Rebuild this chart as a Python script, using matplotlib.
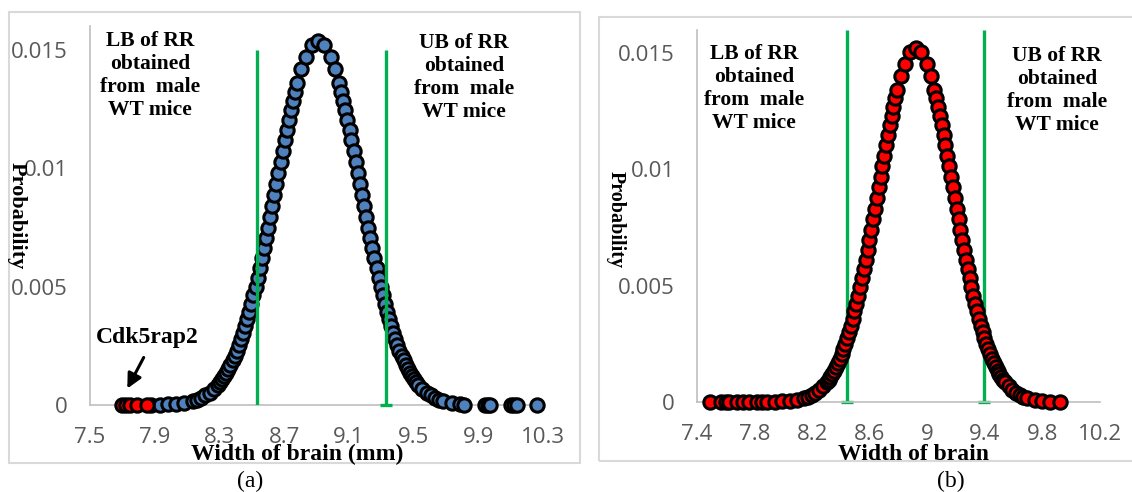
import matplotlib
matplotlib.use("Agg")
import matplotlib.pyplot as plt
from matplotlib.patches import Rectangle, FancyArrowPatch

# ---------------- data ----------------
# Panel (a): width of brain (mm) vs probability
A_LEFT_X = [7.878, 7.930, 7.981, 8.033, 8.084, 8.136, 8.162, 8.188, 8.213, 8.239, 8.265, 8.291,
            8.304, 8.317, 8.330, 8.342, 8.355, 8.368, 8.381, 8.394, 8.407, 8.420, 8.433, 8.446,
            8.458, 8.471, 8.484, 8.497, 8.510, 8.523, 8.536, 8.549, 8.562, 8.575, 8.588, 8.600,
            8.613, 8.626, 8.639, 8.652, 8.665, 8.678, 8.691, 8.704, 8.717, 8.729, 8.742, 8.755,
            8.768, 8.781, 8.807, 8.833, 8.871, 8.910]
A_LEFT_Y = [0.000005, 0.000011, 0.000024, 0.000048, 0.000092, 0.000171, 0.000230, 0.000306,
            0.000402, 0.000524, 0.000677, 0.000864, 0.000974, 0.001094, 0.001225, 0.001369,
            0.001527, 0.001698, 0.001884, 0.002084, 0.002300, 0.002533, 0.002782, 0.003048,
            0.003331, 0.003631, 0.003948, 0.004282, 0.004633, 0.005000, 0.005382, 0.005780,
            0.006191, 0.006615, 0.007051, 0.007496, 0.007949, 0.008409, 0.008874, 0.009341,
            0.009807, 0.010271, 0.010731, 0.011183, 0.011625, 0.012054, 0.012467, 0.012863,
            0.013238, 0.013591, 0.014216, 0.014722, 0.015228, 0.015400]
A_RIGHT_X = [8.949, 8.987, 9.013, 9.039, 9.052, 9.065, 9.078, 9.091, 9.104, 9.116, 9.129, 9.142,
             9.155, 9.168, 9.181, 9.194, 9.207, 9.220, 9.233, 9.245, 9.258, 9.271, 9.284, 9.297,
             9.310, 9.323, 9.336, 9.349, 9.362, 9.374, 9.387, 9.400, 9.413, 9.426, 9.439, 9.452,
             9.465, 9.478, 9.491, 9.503, 9.516, 9.529, 9.555, 9.581, 9.607, 9.632, 9.658, 9.684,
             9.736, 9.787, 9.810, 9.940, 9.960, 9.970, 10.100, 10.120, 10.140, 10.260]
A_RIGHT_Y = [0.015228, 0.014722, 0.014216, 0.013591, 0.013238, 0.012863, 0.012467, 0.012054,
             0.011625, 0.011183, 0.010731, 0.010271, 0.009807, 0.009341, 0.008874, 0.008409,
             0.007949, 0.007496, 0.007051, 0.006615, 0.006191, 0.005780, 0.005382, 0.005000,
             0.004633, 0.004282, 0.003948, 0.003631, 0.003331, 0.003048, 0.002782, 0.002533,
             0.002300, 0.002084, 0.001884, 0.001698, 0.001527, 0.001369, 0.001225, 0.001094,
             0.000974, 0.000864, 0.000677, 0.000524, 0.000402, 0.000306, 0.000230, 0.000171,
             0.000092, 0.000048, 0.000020, 0.0, 0.0, 0.0, 0.0, 0.0, 0.0, 0.0]
CDK_X = [7.70, 7.72, 7.75, 7.79, 7.85]
CDK_Y = [0.0, 0.0, 0.0, 0.0, 0.0]
A_BOUNDS = [8.532, 9.329]          # LB, UB of reference range
A_BOUND_TOP = 0.015

# Panel (b)
B_LEFT_X = [7.490, 7.570, 7.600, 7.620, 7.680, 7.720, 7.760, 7.820, 7.850,
            7.888, 7.940, 7.991, 8.043, 8.094, 8.146, 8.172, 8.198, 8.223, 8.249, 8.275, 8.301,
            8.314, 8.327, 8.340, 8.352, 8.365, 8.378, 8.391, 8.404, 8.417, 8.430, 8.443, 8.456,
            8.468, 8.481, 8.494, 8.507, 8.520, 8.533, 8.546, 8.559, 8.572, 8.585, 8.598, 8.610,
            8.623, 8.636, 8.649, 8.662, 8.675, 8.688, 8.701, 8.714, 8.727, 8.739, 8.752, 8.765,
            8.778, 8.791, 8.817, 8.843, 8.881, 8.920]
B_LEFT_Y = [0.0, 0.0, 0.0, 0.0, 0.0, 0.0, 0.0, 0.0, 0.0,
            0.000005, 0.000011, 0.000023, 0.000047, 0.000091, 0.000169, 0.000227, 0.000302,
            0.000397, 0.000518, 0.000668, 0.000853, 0.000961, 0.001079, 0.001209, 0.001352,
            0.001507, 0.001676, 0.001859, 0.002057, 0.002270, 0.002500, 0.002746, 0.003008,
            0.003287, 0.003583, 0.003896, 0.004226, 0.004572, 0.004935, 0.005312, 0.005705,
            0.006111, 0.006529, 0.006959, 0.007399, 0.007846, 0.008300, 0.008759, 0.009219,
            0.009680, 0.010138, 0.010591, 0.011037, 0.011474, 0.011897, 0.012305, 0.012696,
            0.013066, 0.013414, 0.014031, 0.014531, 0.015030, 0.015200]
B_RIGHT_X = [8.959, 8.997, 9.023, 9.049, 9.062, 9.075, 9.088, 9.101, 9.114, 9.126, 9.139, 9.152,
             9.165, 9.178, 9.191, 9.204, 9.217, 9.230, 9.243, 9.255, 9.268, 9.281, 9.294, 9.307,
             9.320, 9.333, 9.346, 9.359, 9.372, 9.384, 9.397, 9.410, 9.423, 9.436, 9.449, 9.462,
             9.475, 9.488, 9.501, 9.513, 9.526, 9.539, 9.565, 9.591, 9.617, 9.642, 9.668, 9.694,
             9.746, 9.797, 9.850, 9.920]
B_RIGHT_Y = [0.015030, 0.014531, 0.014031, 0.013414, 0.013066, 0.012696, 0.012305, 0.011897,
             0.011474, 0.011037, 0.010591, 0.010138, 0.009680, 0.009219, 0.008759, 0.008300,
             0.007846, 0.007399, 0.006959, 0.006529, 0.006111, 0.005705, 0.005312, 0.004935,
             0.004572, 0.004226, 0.003896, 0.003583, 0.003287, 0.003008, 0.002746, 0.002500,
             0.002270, 0.002057, 0.001859, 0.001676, 0.001507, 0.001352, 0.001209, 0.001079,
             0.000961, 0.000853, 0.000668, 0.000518, 0.000397, 0.000302, 0.000227, 0.000169,
             0.000091, 0.000047, 0.000010, 0.0]
B_BOUNDS = [8.442, 9.393]
B_BOUND_TOP = 0.016

XTICKS_A = [7.5, 7.9, 8.3, 8.7, 9.1, 9.5, 9.9, 10.3]
XTICKS_B = [7.4, 7.8, 8.2, 8.6, 9.0, 9.4, 9.8, 10.2]
XTICKLABELS_A = ["7.5", "7.9", "8.3", "8.7", "9.1", "9.5", "9.9", "10.3"]
XTICKLABELS_B = ["7.4", "7.8", "8.2", "8.6", "9", "9.4", "9.8", "10.2"]
YTICKS = [0, 0.005, 0.01, 0.015]
YTICKLABELS = ["0", "0.005", "0.01", "0.015"]

BOUND_TEXT_LB = "LB of RR\nobtained\nfrom  male\nWT mice"
BOUND_TEXT_UB = "UB of RR\nobtained\nfrom  male\nWT mice"

# ---------------- style ----------------
W, H = 1132, 492
fig = plt.figure(figsize=(W / 100, H / 100), dpi=100)
fig.patch.set_facecolor("white")

GREEN = "#00B050"
BLUE = "#4F81BD"
RED = "#FF0000"
AXIS_GRAY = "#BFBFBF"
TICK_GRAY = "#595959"
SERIF = "Liberation Serif"
SANS = "Open Sans"


def fx(px):
    return px / W


def fy(py):
    return 1 - py / H


# panel frames
fig.patches.append(Rectangle((fx(9), fy(463)), fx(580) - fx(9), fy(12) - fy(463),
                             transform=fig.transFigure, fill=False, edgecolor="#D9D9D9", lw=1.5))
fig.patches.append(Rectangle((fx(599), fy(461)), fx(1140) - fx(599), fy(17) - fy(461),
                             transform=fig.transFigure, fill=False, edgecolor="#D9D9D9", lw=1.5))


def setup_axes(rect, xlim, xticks, xticklabels):
    ax = fig.add_axes(rect)
    ax.set_xlim(*xlim)
    ax.set_ylim(0, 0.016)
    for s in ["top", "right"]:
        ax.spines[s].set_visible(False)
    for s in ["left", "bottom"]:
        ax.spines[s].set_color(AXIS_GRAY)
        ax.spines[s].set_linewidth(1.2)
    ax.set_xticks(xticks)
    ax.set_xticklabels(xticklabels)
    ax.set_yticks(YTICKS)
    ax.set_yticklabels(YTICKLABELS)
    ax.tick_params(axis="both", length=0, labelsize=16, labelcolor=TICK_GRAY)
    ax.tick_params(axis="x", pad=16)
    ax.tick_params(axis="y", pad=16)
    for lab in ax.get_xticklabels() + ax.get_yticklabels():
        lab.set_fontfamily(SANS)
    ax.patch.set_alpha(0)
    return ax


mk = dict(marker="o", linestyle="none", markersize=9.6, markeredgecolor="black",
          markeredgewidth=2.2, clip_on=False)

# ---- panel (a) ----
axA = setup_axes([fx(90), fy(405), fx(543) - fx(90), fy(405 - 378.7) - fy(405)],
                 (7.5, 10.3), XTICKS_A, XTICKLABELS_A)
axA.plot(A_LEFT_X + A_RIGHT_X, A_LEFT_Y + A_RIGHT_Y, markerfacecolor=BLUE, zorder=3, **mk)
axA.plot(CDK_X, CDK_Y, markerfacecolor=RED, zorder=4, **mk)
axA.vlines(A_BOUNDS, 0, A_BOUND_TOP, colors=GREEN, lw=2.4, zorder=5)
axA.plot([A_BOUNDS[1]], [0], marker="_", markersize=8, mew=2.4, color=GREEN, zorder=5,
         clip_on=False)

# ---- panel (b) ----
axB = setup_axes([fx(697), fy(402), fx(1100) - fx(697), fy(402 - 372.3) - fy(402)],
                 (7.4, 10.2), XTICKS_B, XTICKLABELS_B)
axB.vlines(B_BOUNDS, 0, B_BOUND_TOP, colors=GREEN, lw=2.4, zorder=2)
axB.plot(B_BOUNDS, [0, 0], marker="_", linestyle="none", markersize=8, mew=2.4, color=GREEN,
         zorder=2, clip_on=False)
axB.plot(B_LEFT_X + B_RIGHT_X, B_LEFT_Y + B_RIGHT_Y, markerfacecolor=RED, zorder=3, **mk)

# ---- texts ----
txt = dict(family=SERIF, fontweight="bold", color="black", ha="center", va="center")
fig.text(fx(297), fy(454), "Width of brain (mm)", fontsize=17, **txt)
fig.text(fx(913), fy(454), "Width of brain", fontsize=17, **txt)
fig.text(fx(17), fy(216), "Probability", fontsize=16, rotation=-90, **txt)
fig.text(fx(616), fy(220), "Probability", fontsize=14.5, rotation=-90, **txt)

bt = dict(family=SERIF, fontweight="bold", color="black", ha="center", va="top",
          fontsize=15.5, linespacing=1.2)
fig.text(fx(150), fy(31), BOUND_TEXT_LB, **bt)
fig.text(fx(464), fy(33), BOUND_TEXT_UB, **bt)
fig.text(fx(754), fy(44), BOUND_TEXT_LB, **bt)
fig.text(fx(1057), fy(46), BOUND_TEXT_UB, **bt)

fig.text(fx(147), fy(337), "Cdk5rap2", family=SERIF, fontweight="bold", fontsize=17,
         ha="center", va="center")
fig.patches.append(FancyArrowPatch(
    (fx(145), fy(355)), (fx(126), fy(391)), transform=fig.transFigure,
    arrowstyle="-|>", mutation_scale=22, lw=2.2, color="black"))

fig.text(fx(250), fy(481), "(a)", family=SERIF, fontsize=17, ha="center", va="center")
fig.text(fx(951), fy(481), "(b)", family=SERIF, fontsize=17, ha="center", va="center")

fig.savefig("out.png", dpi=100, facecolor="white")
